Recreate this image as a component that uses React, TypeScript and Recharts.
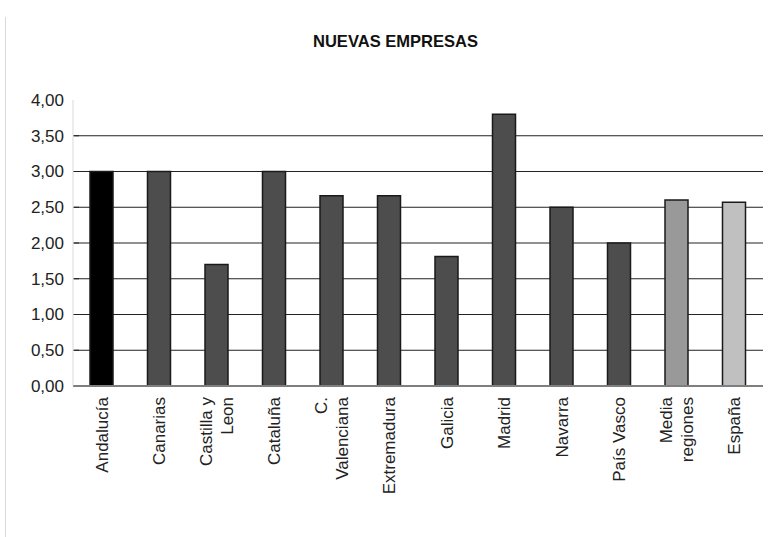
import { BarChart, Bar, XAxis, YAxis, CartesianGrid, Cell } from "recharts";

const regions = [
  "Andalucía",
  "Canarias",
  "Castilla y\nLeon",
  "Cataluña",
  "C.\nValenciana",
  "Extremadura",
  "Galicia",
  "Madrid",
  "Navarra",
  "País Vasco",
  "Media\nregiones",
  "España",
];
const values = [3.0, 3.0, 1.7, 3.0, 2.66, 2.66, 1.81, 3.8, 2.5, 2.0, 2.6, 2.57];
const barColors = [
  "#000000", "#4d4d4d", "#4d4d4d", "#4d4d4d", "#4d4d4d", "#4d4d4d",
  "#4d4d4d", "#4d4d4d", "#4d4d4d", "#4d4d4d", "#999999", "#c0c0c0",
];
const yTicks = [0, 0.5, 1, 1.5, 2, 2.5, 3, 3.5, 4];
const gridValues = [0.5, 1, 1.5, 2, 2.5, 3, 3.5];

const data = regions.map((region, i) => ({ region, value: values[i] }));

const FONT = "'Liberation Sans', Arial, sans-serif";

function XTick({ x, y, payload }: any) {
  const lines = String(payload.value).split("\n");
  return (
    <g>
      {lines.map((line, i) => {
        const off = (i - (lines.length - 1) / 2) * 21;
        return (
          <text
            key={i}
            x={0}
            y={0}
            transform={`translate(${x + off},${y + 3}) rotate(-90)`}
            textAnchor="end"
            dy="0.35em"
            fontSize={17}
            fontFamily={FONT}
            fill="#222"
          >
            {line}
          </text>
        );
      })}
    </g>
  );
}

function YTick({ x, y, payload }: any) {
  const label = payload.value.toFixed(2).replace(".", ",");
  return (
    <g>
      {payload.value < 4 && payload.value > 0 && (
        <line x1={x + 9} x2={x + 14} y1={y} y2={y} stroke="#222" />
      )}
      <text x={x - 1} y={y} dy="0.35em" textAnchor="end" fontSize={17} fontFamily={FONT} fill="#222">
        {label}
      </text>
    </g>
  );
}

export default function App() {
  return (
    <div style={{ position: "absolute", left: 0, top: 0, width: 771, height: 537, background: "#fff" }}>
      <svg width={771} height={537} style={{ position: "absolute", left: 0, top: 0 }}>
        <line x1={5.5} x2={5.5} y1={17} y2={537} stroke="#d9d9d9" />
        <text
          x={395.5}
          y={47}
          textAnchor="middle"
          fontSize={17}
          fontWeight="bold"
          fontFamily={FONT}
          textLength={165}
          lengthAdjust="spacingAndGlyphs"
          fill="#111"
        >
          NUEVAS EMPRESAS
        </text>
      </svg>
      <div style={{ position: "absolute", left: 0, top: 0 }}>
        <BarChart
          width={771}
          height={537}
          data={data}
          margin={{ top: 100, right: 8, left: 0, bottom: 0 }}
        >
          <CartesianGrid
            vertical={false}
            horizontalValues={gridValues}
            stroke="#222"
          />
          <XAxis
            dataKey="region"
            interval={0}
            height={151}
            tickLine={false}
            axisLine={{ stroke: "#7f7f7f", strokeWidth: 2 }}
            tick={<XTick />}
          />
          <YAxis
            domain={[0, 4]}
            ticks={yTicks}
            width={73}
            tickLine={false}
            axisLine={{ stroke: "#d9d9d9" }}
            tick={<YTick />}
          />
          <YAxis
            yAxisId="r"
            orientation="right"
            domain={[0, 4]}
            width={0}
            tick={false}
            tickLine={false}
            axisLine={{ stroke: "#d9d9d9" }}
          />
          <Bar dataKey="value" barSize={23} stroke="#1a1a1a" strokeWidth={1.5} isAnimationActive={false}>
            {data.map((d, i) => (
              <Cell key={d.region} fill={barColors[i]} />
            ))}
          </Bar>
        </BarChart>
      </div>
    </div>
  );
}
